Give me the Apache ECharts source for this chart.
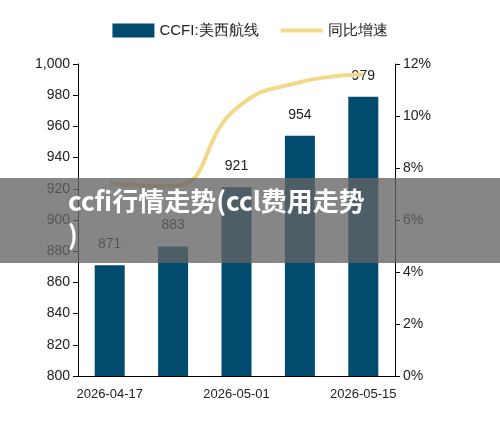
<!DOCTYPE html>
<html><head><meta charset="utf-8">
<script src="https://cdn.jsdelivr.net/npm/echarts@6/dist/echarts.min.js"></script>
<style>html,body{margin:0;padding:0;background:#fff}#c{width:500px;height:440px}</style>
</head><body><div id="c"></div>
<script>
const categories = ['2026-04-17','2026-04-24','2026-05-01','2026-05-08','2026-05-15'];
const ccfiValues = [871, 883, 921, 954, 979];
const yoyValues = [7.4, 7.3, 10.3, 11.3, 11.6];
const title = 'ccfi行情走势(ccl费用走势\n)';
const ax = {lineStyle:{color:'#000'}};
const chart = echarts.init(document.getElementById('c'));
chart.setOption({
  animation:false,
  textStyle:{fontFamily:'Liberation Sans, Arial'},
  legend:{top:18,left:'center',itemWidth:42,itemHeight:14,itemGap:22,
    textStyle:{fontSize:15,color:'#222'},
    data:[{name:'CCFI:美西航线',icon:'rect'},{name:'同比增速',icon:'path://M0,6H42V10H0Z'}]},
  grid:{left:78,right:105,top:64,bottom:64},
  xAxis:{type:'category',data:categories,axisLine:ax,axisTick:{show:false},
    axisLabel:{interval:1,color:'#222',fontSize:13,margin:12}},
  yAxis:[
    {type:'value',min:800,max:1000,interval:20,axisLine:{show:true,lineStyle:{color:'#000'}},
     axisTick:{show:true,inside:false,lineStyle:{color:'#000'}},splitLine:{show:false},
     axisLabel:{color:'#222',fontSize:14,formatter:v=>v>=1000?'1,000':v}},
    {type:'value',min:0,max:12,interval:2,position:'right',axisLine:{show:true,lineStyle:{color:'#000'}},
     axisTick:{show:true,lineStyle:{color:'#000'}},splitLine:{show:false},
     axisLabel:{color:'#222',fontSize:14,formatter:'{value}%'}}
  ],
  series:[
    {name:'CCFI:美西航线',type:'bar',data:ccfiValues,barWidth:30,itemStyle:{color:'#004b6e'},
     label:{show:true,position:'top',distance:14,color:'#222',fontSize:14}},
    {name:'同比增速',type:'line',yAxisIndex:1,data:yoyValues,smooth:0.5,symbol:'none',
     lineStyle:{color:'#f2d98a',width:4},itemStyle:{color:'#f2d98a'}}
  ],
  graphic:[
    {type:'rect',left:0,top:178,shape:{width:500,height:85},style:{fill:'rgba(100,100,100,0.78)'},z:100},
    {type:'text',left:68,top:184,z:101,style:{text:title,fill:'#fff',fontSize:26,fontWeight:'bold',
     fontFamily:'Noto Sans CJK SC',textAlign:'left',lineHeight:34}}
  ]
});
</script></body></html>
